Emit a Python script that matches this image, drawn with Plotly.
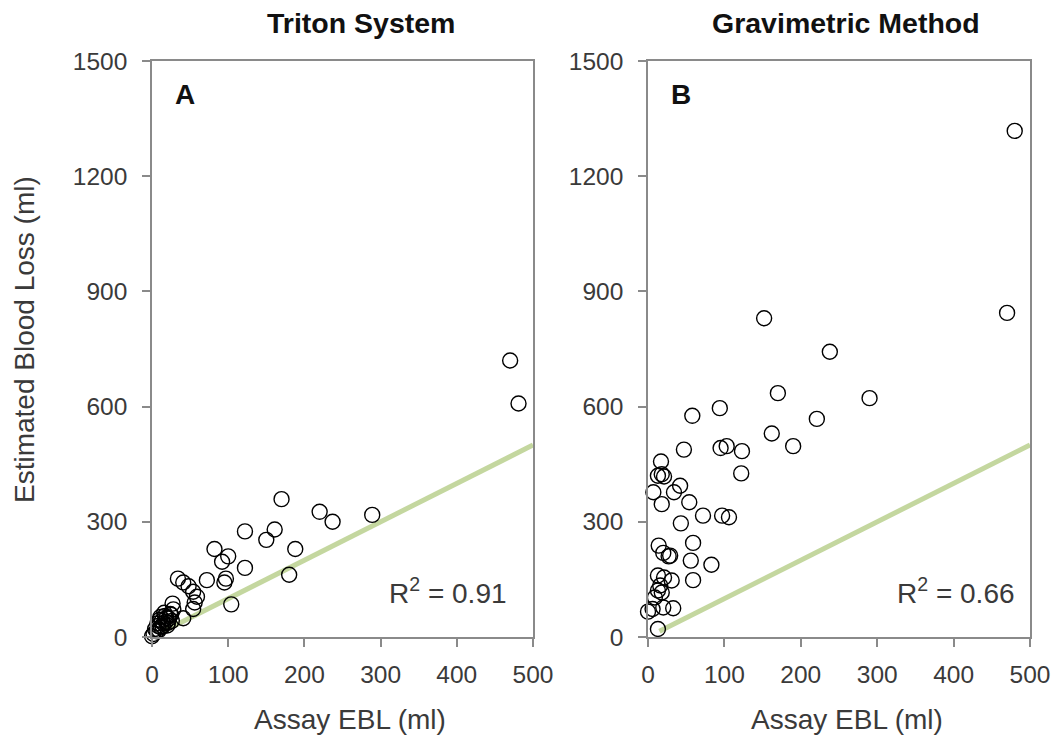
import plotly.graph_objects as go

# ---- data ----
triton_x = [470, 481, 170, 220, 237, 289, 122, 161, 150, 188, 82, 100, 92, 122, 180,
            97, 95, 72, 34, 41, 48, 54, 59, 56, 54, 104, 27, 41, 17, 24, 13, 21, 8, 4,
            2, 0, 28, 10, 15, 19, 12, 6, 9, 14, 18, 22, 25, 11, 16, 20, 7, 26]
triton_y = [720, 608, 359, 326, 300, 318, 275, 280, 253, 229, 229, 210, 196, 180, 162,
            152, 142, 148, 152, 142, 132, 118, 105, 90, 73, 85, 87, 49, 55, 60, 42, 37, 29, 21,
            8, 2, 72, 45, 35, 50, 25, 15, 18, 28, 40, 48, 58, 52, 63, 30, 35, 42]

grav_x = [480, 470, 290, 152, 238, 170, 94, 58, 221, 162, 190, 47, 95, 103, 123, 122,
          17, 18, 13, 21, 42, 7, 34, 18, 54, 72, 97, 106, 43, 59, 14, 20, 29, 27, 56, 83,
          13, 21, 31, 59, 16, 13, 18, 9, 0, 6, 20, 33, 13]
grav_y = [1318, 844, 622, 830, 743, 635, 596, 576, 568, 530, 497, 488, 492, 497, 484, 426,
          457, 424, 420, 418, 394, 377, 377, 346, 351, 316, 316, 312, 296, 245, 238, 219, 212,
          210, 199, 188, 160, 155, 147, 148, 134, 121, 116, 103, 66, 73, 77, 75, 21]

ref_x = [15, 500]
ref_y = [15, 500]

panel_titles = ["Triton System", "Gravimetric Method"]
panel_letters = ["A", "B"]
r2_labels = ["R<sup>2</sup> = 0.91", "R<sup>2</sup> = 0.66"]
x_ticks = [0, 100, 200, 300, 400, 500]
y_ticks = [0, 300, 600, 900, 1200, 1500]
x_title = "Assay EBL (ml)"
y_title = "Estimated Blood Loss (ml)"

W, H = 1055, 739
FONT = "Liberation Sans, Arial, sans-serif"
TXT = "#3a3a3a"
AX = "#8a8a8a"
GREEN = "#c4d79f"

fig = go.Figure()

panels = [(triton_x, triton_y, "x", "y"), (grav_x, grav_y, "x2", "y2")]
for (px, py, xa, ya) in panels:
    fig.add_trace(go.Scatter(x=ref_x, y=ref_y, mode="lines", xaxis=xa, yaxis=ya,
                             line=dict(color=GREEN, width=5), hoverinfo="skip", showlegend=False))
    fig.add_trace(go.Scatter(x=px, y=py, mode="markers", xaxis=xa, yaxis=ya,
                             marker=dict(symbol="circle-open", size=15, color="black",
                                         line=dict(width=1.4, color="black")),
                             showlegend=False, cliponaxis=False))

# pixel layout
xA = (152, 533)
xB = (648, 1030)
ytop, ybot = 61, 637

def xdom(a):
    return [a[0] / W, a[1] / W]

ydom = [1 - ybot / H, 1 - ytop / H]

axis_common = dict(
    showline=True, linecolor=AX, linewidth=1.5, mirror=True,
    ticks="outside", ticklen=8, tickwidth=1.5, tickcolor=AX,
    showgrid=False, zeroline=False, automargin=False,
    tickfont=dict(family=FONT, size=24.5, color=TXT),
    fixedrange=True,
)

fig.update_layout(
    template="none",
    width=W, height=H,
    margin=dict(l=0, r=0, t=0, b=0, pad=0, autoexpand=False),
    paper_bgcolor="white", plot_bgcolor="white",
    xaxis=dict(domain=xdom(xA), range=[0, 500], tickvals=x_ticks, anchor="y",
               ticklabelstandoff=7, **axis_common),
    yaxis=dict(domain=ydom, range=[0, 1500], tickvals=y_ticks, anchor="x",
               ticklabelstandoff=10, **axis_common),
    xaxis2=dict(domain=xdom(xB), range=[0, 500], tickvals=x_ticks, anchor="y2",
                ticklabelstandoff=7, **axis_common),
    yaxis2=dict(domain=ydom, range=[0, 1500], tickvals=y_ticks, anchor="x2",
                ticklabelstandoff=10, **axis_common),
)

ann = []
def px_ann(text, x, y, size, bold=False, xanchor="center", textangle=0):
    ann.append(dict(text=f"<b>{text}</b>" if bold else text, x=x / W, y=1 - y / H,
                    xref="paper", yref="paper", showarrow=False, xanchor=xanchor,
                    yanchor="middle", textangle=textangle,
                    font=dict(family=FONT, size=size, color="#111111" if bold else TXT)))

px_ann(panel_titles[0], 361, 23, 28.5, bold=True)
px_ann(panel_titles[1], 846, 23, 28.5, bold=True)
px_ann(panel_letters[0], 185, 95, 28, bold=True)
px_ann(panel_letters[1], 681, 95, 28, bold=True)
px_ann(r2_labels[0], 448, 591, 28)
px_ann(r2_labels[1], 956, 591, 28)
px_ann(x_title, 350, 719, 28)
px_ann(x_title, 847, 719, 28)
px_ann(y_title, 24, 340, 28, textangle=-90)

fig.update_layout(annotations=ann)

fig.write_html("out.html")
